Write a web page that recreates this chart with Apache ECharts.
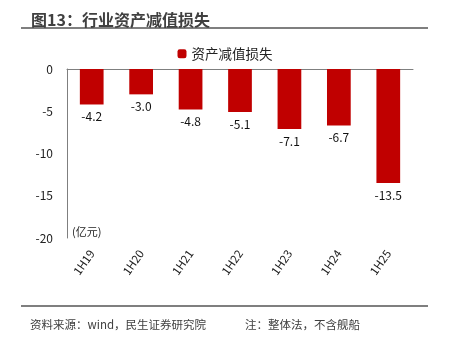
<!DOCTYPE html>
<html>
<head>
<meta charset="utf-8">
<script src="https://cdn.jsdelivr.net/npm/echarts@6/dist/echarts.min.js"></script>
<style>
html,body{margin:0;padding:0;background:#fff;}
#chart{width:450px;height:348px;}
</style>
</head>
<body>
<div id="chart"></div>
<script>
// 行业资产减值损失（亿元）
const categories = ['1H19', '1H20', '1H21', '1H22', '1H23', '1H24', '1H25'];
const impairment = [-4.2, -3.0, -4.8, -5.1, -7.1, -6.7, -13.5];
const seriesName = '资产减值损失';

const FONT = '"Noto Sans CJK SC", "Noto Sans", sans-serif';
const chart = echarts.init(document.getElementById('chart'), null, { renderer: 'canvas' });

chart.setOption({
  backgroundColor: '#fff',
  animation: false,
  textStyle: { fontFamily: FONT },
  title: {
    text: '图13：行业资产减值损失',
    left: 26, top: 7,
    textStyle: { fontSize: 16, fontWeight: 'bold', color: '#404040', fontFamily: FONT }
  },
  legend: {
    data: [seriesName],
    top: 42, left: 'center',
    itemWidth: 9, itemHeight: 9, itemGap: 4,
    textStyle: { fontSize: 13.5, color: '#222', fontFamily: FONT }
  },
  grid: { left: 67, right: 37, top: 69, bottom: 110 },
  xAxis: [
    {
      type: 'category',
      data: categories,
      position: 'bottom',
      axisLine: { show: false, onZero: false },
      axisTick: { show: false },
      axisLabel: { rotate: 55, margin: 13, fontSize: 11.5, color: '#222', fontFamily: FONT }
    },
    {
      type: 'category',
      data: categories,
      position: 'top',
      axisLine: { show: true, onZero: false, lineStyle: { color: '#7f7f7f', width: 1 } },
      axisTick: { show: false },
      axisLabel: { show: false }
    }
  ],
  yAxis: {
    type: 'value',
    min: -20, max: 0, interval: 5,
    axisLine: { show: true, lineStyle: { color: '#7f7f7f', width: 1 } },
    axisTick: { show: false },
    splitLine: { show: false },
    axisLabel: { margin: 14, fontSize: 12, color: '#222', fontFamily: FONT }
  },
  series: [{
    name: seriesName,
    type: 'bar',
    data: impairment,
    barWidth: '48%',
    itemStyle: { color: '#C00000' },
    label: {
      show: true, position: 'bottom', distance: 6,
      fontSize: 12, color: '#111', fontFamily: FONT,
      formatter: p => p.value.toFixed(1)
    }
  }],
  graphic: [
    { type: 'line', shape: { x1: 21, y1: 28, x2: 428, y2: 28 }, style: { stroke: '#555', lineWidth: 1.5 } },
    { type: 'text', left: 72, top: 226, style: { text: '(亿元)', fontSize: 11, fill: '#222', fontFamily: FONT } },
    { type: 'line', shape: { x1: 21, y1: 306, x2: 428, y2: 306 }, style: { stroke: '#555', lineWidth: 1.5 } },
    { type: 'text', left: 30, top: 319, style: { text: '资料来源：wind，民生证券研究院', fontSize: 11.5, fill: '#404040', fontFamily: FONT } },
    { type: 'text', left: 245, top: 319, style: { text: '注：整体法，不含舰船', fontSize: 11.5, fill: '#404040', fontFamily: FONT } }
  ]
});
</script>
</body>
</html>
